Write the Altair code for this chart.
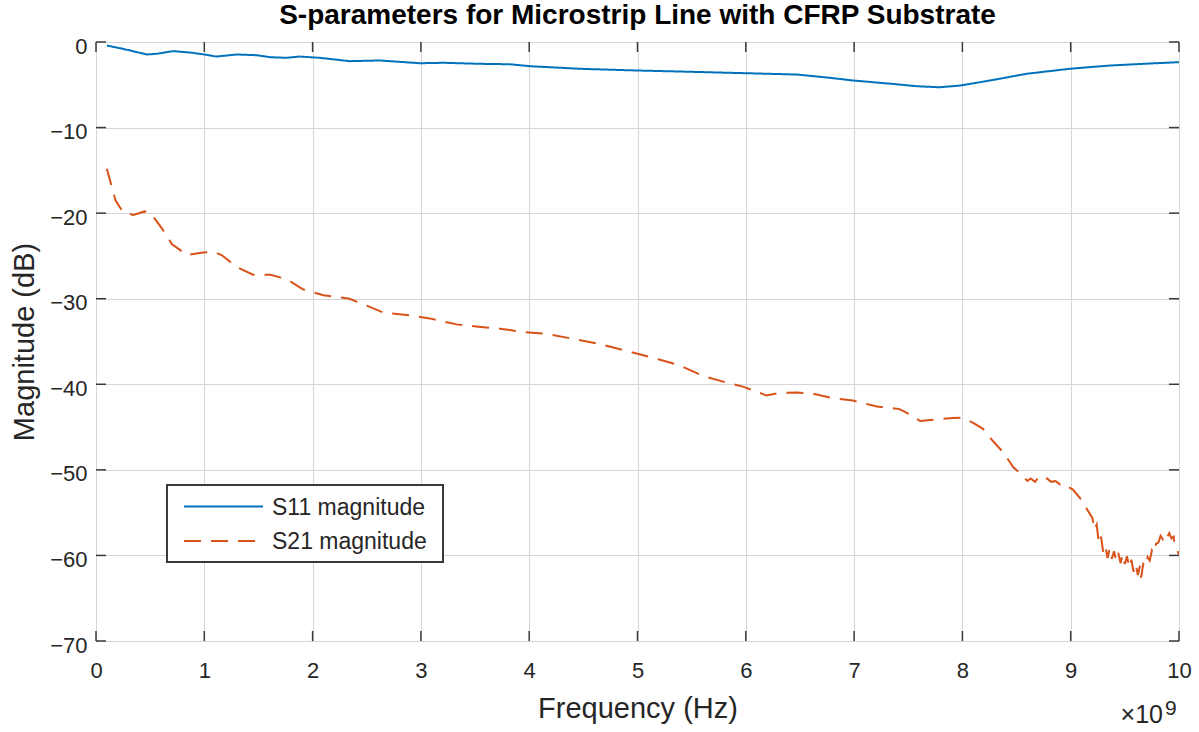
import altair as alt
import pandas as pd

# ---- data (frequency in GHz, converted to Hz below) ----
s11_freq_ghz = [0.10, 0.25, 0.47, 0.56, 0.71, 0.87, 1.00, 1.11, 1.30, 1.48, 1.61, 1.76, 1.88, 2.07,
                2.34, 2.62, 2.99, 3.21, 3.55, 3.82, 4.01, 4.47, 4.99, 5.39, 6.01, 6.47, 6.78, 6.99,
                7.24, 7.36, 7.58, 7.79, 7.98, 8.29, 8.59, 8.99, 9.36, 9.67, 10.00]
s11_db = [-0.41, -0.80, -1.46, -1.38, -1.07, -1.23, -1.46, -1.70, -1.46, -1.54, -1.78, -1.85, -1.70, -1.85,
          -2.24, -2.16, -2.48, -2.43, -2.55, -2.60, -2.83, -3.13, -3.33, -3.45, -3.65, -3.80, -4.19, -4.50,
          -4.77, -4.90, -5.17, -5.29, -5.09, -4.42, -3.72, -3.13, -2.75, -2.55, -2.36]

s21_freq_ghz = [0.10, 0.13, 0.18, 0.25, 0.345, 0.45, 0.51, 0.61, 0.70, 0.84, 0.99, 1.08, 1.16, 1.30,
                1.45, 1.61, 1.76, 1.91, 2.10, 2.34, 2.50, 2.65, 2.87, 3.08, 3.33, 3.55, 3.73, 3.95,
                4.16, 4.41, 4.65, 4.90, 5.08, 5.20, 5.39, 5.60, 5.82, 5.98, 6.19, 6.31, 6.47, 6.62,
                6.80, 6.99, 7.21, 7.42, 7.51, 7.61, 7.76, 7.91, 8.00, 8.10, 8.19, 8.28, 8.38, 8.47,
                8.56, 8.60, 8.63, 8.67, 8.70, 8.74, 8.78, 8.82, 8.86, 8.90, 8.94, 8.98, 9.02, 9.08,
                9.12, 9.15, 9.18, 9.20, 9.22, 9.24, 9.26, 9.28, 9.30, 9.32, 9.34, 9.36, 9.38, 9.40,
                9.42, 9.44, 9.46, 9.48, 9.50, 9.52, 9.54, 9.56, 9.58, 9.60, 9.62, 9.64, 9.65, 9.67,
                9.69, 9.71, 9.73, 9.75, 9.77, 9.79, 9.81, 9.83, 9.85, 9.87, 9.89, 9.91, 9.93, 9.95,
                9.96, 9.98, 10.00]
s21_db = [-14.8, -16.2, -18.5, -19.9, -20.2, -19.8, -20.1, -21.8, -23.6, -24.9, -24.6, -24.5, -24.9, -26.3,
          -27.2, -27.2, -27.7, -28.9, -29.6, -30.0, -30.8, -31.6, -31.9, -32.3, -33.0, -33.3, -33.5, -33.9,
          -34.1, -34.7, -35.3, -36.1, -36.7, -37.1, -37.8, -39.0, -39.8, -40.3, -41.3, -41.0, -40.95, -41.1,
          -41.6, -41.9, -42.6, -42.9, -43.5, -44.3, -44.1, -43.95, -43.9, -44.5, -45.2, -46.6, -48.0, -49.7,
          -50.7, -51.3, -51.0, -51.4, -50.9, -51.2, -51.0, -51.4, -51.3, -51.7, -51.6, -52.0, -52.3, -53.2,
          -53.9, -54.6, -55.2, -55.6, -57.0, -56.4, -58.6, -57.8, -59.6, -58.9, -60.3, -59.2, -60.4, -59.5,
          -60.6, -59.7, -60.9, -59.9, -61.0, -60.1, -61.4, -60.5, -61.9, -61.0, -62.3, -61.2, -62.6, -61.0,
          -61.3, -60.2, -60.6, -59.4, -59.7, -58.6, -58.5, -57.7, -58.1, -57.5, -57.9, -57.4, -58.0, -57.8,
          -58.7, -59.3, -59.9]

series_names = ["S11 magnitude", "S21 magnitude"]
series_colors = ["#0072BD", "#D95319"]
x_ticks = [i * 1e9 for i in range(0, 11)]
y_ticks = [0, -10, -20, -30, -40, -50, -60, -70]

FONT = "Liberation Sans"
BOX_COLOR = "#8a8a8a"
TICK_COLOR = "#3a3a3a"
TEXT_COLOR = "#262626"
DASH = [17, 10]
W, H = 1083, 599

df = pd.concat([
    pd.DataFrame({"freq": [f * 1e9 for f in s11_freq_ghz], "mag": s11_db, "series": series_names[0]}),
    pd.DataFrame({"freq": [f * 1e9 for f in s21_freq_ghz], "mag": s21_db, "series": series_names[1]}),
])

xscale = alt.Scale(domain=[0, 1e10], nice=False, zero=False)
yscale = alt.Scale(domain=[-70, 0], nice=False, zero=False)

xaxis = alt.Axis(values=x_ticks, labelExpr="toString(datum.value / 1e9)", grid=True, gridColor="#d6d6d6",
                 domain=False, ticks=False, labelFlush=False, labelPadding=19, labelFontSize=22,
                 labelFont=FONT, labelColor=TEXT_COLOR, title="Frequency (Hz)", titleFont=FONT,
                 titleFontSize=29, titleFontWeight="normal", titleColor=TEXT_COLOR, titlePadding=13)
yaxis = alt.Axis(values=y_ticks, grid=True, gridColor="#d6d6d6", format="d",
                 domain=False, ticks=False, labelFlush=False, labelPadding=9, labelFontSize=22,
                 labelOffset=4, labelFont=FONT, labelColor=TEXT_COLOR, title="Magnitude (dB)",
                 titleFont=FONT, titleFontSize=29, titleFontWeight="normal", titleColor=TEXT_COLOR,
                 titlePadding=10)

lines = alt.Chart(df).mark_line(strokeWidth=2, clip=True).encode(
    x=alt.X("freq:Q", scale=xscale, axis=xaxis),
    y=alt.Y("mag:Q", scale=yscale, axis=yaxis),
    color=alt.Color("series:N", scale=alt.Scale(domain=series_names, range=series_colors), legend=None),
    strokeDash=alt.StrokeDash("series:N", scale=alt.Scale(domain=series_names, range=[[1, 0], DASH]),
                              legend=None),
    order="freq:Q",
)

xt = pd.DataFrame({"v": x_ticks})
yt = pd.DataFrame({"v": y_ticks})
TL = 10
tick_top = alt.Chart(xt).mark_rule(color=TICK_COLOR, strokeWidth=1.5).encode(
    x=alt.X("v:Q", scale=xscale), y=alt.value(0), y2=alt.value(TL))
tick_bot = alt.Chart(xt).mark_rule(color=TICK_COLOR, strokeWidth=1.5).encode(
    x=alt.X("v:Q", scale=xscale), y=alt.value(H), y2=alt.value(H - TL))
tick_left = alt.Chart(yt).mark_rule(color=TICK_COLOR, strokeWidth=1.5).encode(
    y=alt.Y("v:Q", scale=yscale), x=alt.value(0), x2=alt.value(TL))
tick_right = alt.Chart(yt).mark_rule(color=TICK_COLOR, strokeWidth=1.5).encode(
    y=alt.Y("v:Q", scale=yscale), x=alt.value(W), x2=alt.value(W - TL))

one = pd.DataFrame({"a": [0]})
leg_box = alt.Chart(one).mark_rect(fill="white", stroke="#3a3a3a", strokeWidth=2).encode(
    x=alt.value(71), x2=alt.value(347), y=alt.value(443), y2=alt.value(520))
legend_layers = [leg_box]
for i, (name, col) in enumerate(zip(series_names, series_colors)):
    yy = 464.5 + 34.5 * i
    dash = [1, 0] if i == 0 else DASH
    legend_layers.append(alt.Chart(one).mark_rule(color=col, strokeWidth=2, strokeDash=dash).encode(
        x=alt.value(88), x2=alt.value(167), y=alt.value(yy)))
    legend_layers.append(alt.Chart(pd.DataFrame({"t": [name]})).mark_text(
        align="left", baseline="middle", font=FONT, fontSize=23, color=TEXT_COLOR).encode(
        text="t:N", x=alt.value(176), y=alt.value(yy + 1)))

exp_main = alt.Chart(pd.DataFrame({"t": ["\u00d710"]})).mark_text(
    align="right", baseline="alphabetic", font=FONT, fontSize=25, color=TEXT_COLOR).encode(
    text="t:N", x=alt.value(1067), y=alt.value(681))
exp_sup = alt.Chart(pd.DataFrame({"t": ["9"]})).mark_text(
    align="left", baseline="alphabetic", font=FONT, fontSize=21, color=TEXT_COLOR).encode(
    text="t:N", x=alt.value(1069), y=alt.value(673))

chart = alt.layer(lines, tick_top, tick_bot, tick_left, tick_right, *legend_layers, exp_main, exp_sup).properties(
    width=W, height=H,
    title=alt.TitleParams("S-parameters for Microstrip Line with CFRP Substrate", font=FONT, fontSize=28,
                          fontWeight="bold", color="#000000", anchor="middle", offset=5),
    autosize=alt.AutoSizeParams(type="none"),
    padding={"left": 96, "top": 42, "right": 20, "bottom": 91},
).configure_view(stroke=BOX_COLOR, strokeWidth=2.5).configure(background="white")

chart.save("out.html", embed_options={"renderer": "svg", "actions": False})
